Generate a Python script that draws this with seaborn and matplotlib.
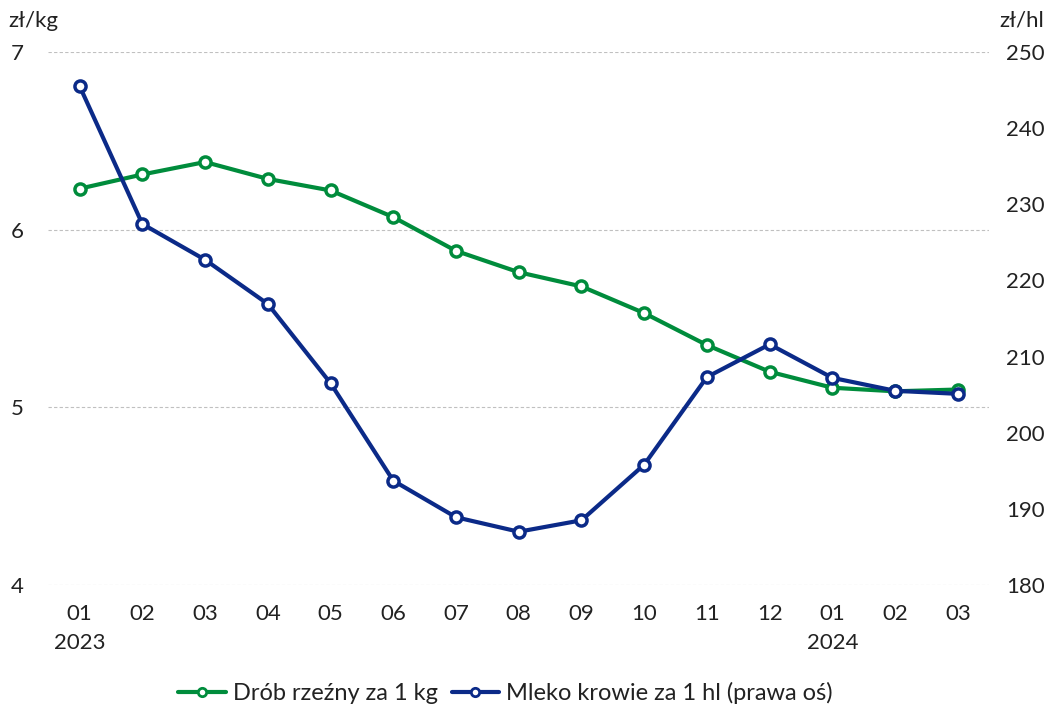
import pandas as pd
import matplotlib.pyplot as plt
import seaborn as sns
from matplotlib.lines import Line2D

miesiace = ['01\n2023', '02', '03', '04', '05', '06', '07', '08', '09', '10', '11', '12', '01\n2024', '02', '03']
drob = [6.23, 6.31, 6.38, 6.285, 6.22, 6.07, 5.88, 5.76, 5.68, 5.53, 5.35, 5.20, 5.11, 5.09, 5.10]
mleko = [245.5, 227.4, 222.7, 216.9, 206.5, 193.7, 188.9, 187.0, 188.5, 195.8, 207.3, 211.6, 207.2, 205.5, 205.1]

sns.set_style('white')
plt.rcParams['font.family'] = ['Lato', 'DejaVu Sans']

df = pd.DataFrame({'idx': range(len(miesiace)), 'drob': drob, 'mleko': mleko})

zielony = '#008c3c'
granat = '#0b2a88'
tekst = '#222222'

fig = plt.figure(figsize=(10.49, 7.10), dpi=100)
ax = fig.add_axes([0.046, 0.176, 0.897, 0.751])
ax2 = ax.twinx()

style = dict(marker='o', markersize=8, markerfacecolor='white', markeredgewidth=2.5, linewidth=3)
sns.lineplot(data=df, x='idx', y='drob', ax=ax, color=zielony, markeredgecolor=zielony, **style)
sns.lineplot(data=df, x='idx', y='mleko', ax=ax2, color=granat, markeredgecolor=granat, **style)

ax.set_xlim(-0.5, 14.5)
ax.set_ylim(4, 7)
ax.set_yticks([4, 5, 6, 7])
ax2.set_ylim(180, 250)
ax2.set_yticks(range(180, 251, 10))
ax.set_xticks(range(len(miesiace)))
ax.set_xticklabels(miesiace, fontsize=16, color=tekst, linespacing=1.55)
ax.tick_params(axis='y', labelsize=16, colors=tekst, length=0, pad=18)
ax.tick_params(axis='x', length=0, pad=14)
ax2.tick_params(axis='y', labelsize=16, colors=tekst, length=0, pad=12)
ax.set_xlabel('')
ax.set_ylabel('')
ax2.set_ylabel('')

ax.grid(axis='y', color='#c0c0c0', linestyle=(0, (3, 2)), linewidth=0.8)
for a in (ax, ax2):
    for s in a.spines.values():
        s.set_visible(False)

fig.text(0.008, 0.962, 'zł/kg', fontsize=16, color=tekst)
fig.text(0.995, 0.962, 'zł/hl', fontsize=16, color=tekst, ha='right')

leg_style = dict(style, markersize=6, markeredgewidth=2, linewidth=3)
uchwyty = [
    Line2D([], [], color=zielony, markeredgecolor=zielony, **leg_style),
    Line2D([], [], color=granat, markeredgecolor=granat, **leg_style),
]
fig.legend(uchwyty, ['Drób rzeźny za 1 kg', 'Mleko krowie za 1 hl (prawa oś)'],
           loc='center', bbox_to_anchor=(0.482, 0.024), ncol=2, frameon=False,
           fontsize=17, handlelength=2.0, handletextpad=0.3, columnspacing=0.6,
           labelcolor=tekst)

fig.savefig('out.png', dpi=100)
